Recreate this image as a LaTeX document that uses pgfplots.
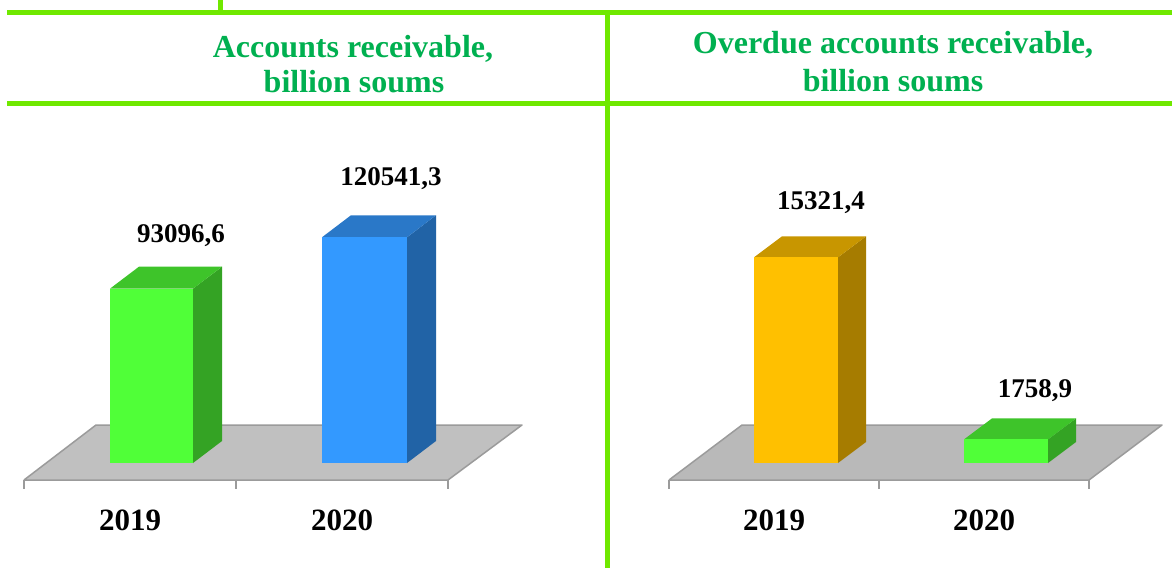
\documentclass[border=0pt]{standalone}
\usepackage{pgfplots}
\pgfplotsset{compat=1.18}
\usepackage{fontspec}
\setmainfont{Liberation Serif}
\definecolor{frame}{RGB}{112,232,0}
\definecolor{ttl}{RGB}{0,176,80}
\definecolor{gfront}{RGB}{80,255,56}
\definecolor{gside}{RGB}{52,163,36}
\definecolor{gtop}{RGB}{62,196,42}
\definecolor{bfront}{RGB}{51,153,255}
\definecolor{bside}{RGB}{33,99,166}
\definecolor{btop}{RGB}{42,120,200}
\definecolor{yfront}{RGB}{255,192,0}
\definecolor{yside}{RGB}{166,124,0}
\definecolor{ytop}{RGB}{200,150,0}
\definecolor{floorL}{RGB}{192,192,192}
\definecolor{floorR}{RGB}{185,185,185}
\definecolor{floorE}{RGB}{155,155,155}
\begin{document}
\begin{tikzpicture}[x=1pt,y=1pt]
\fill[white] (0,0) rectangle (1172,568);
% frame lines
\draw[frame, line width=5pt] (7,555) -- (1172,555);
\draw[frame, line width=5pt] (7,464) -- (1172,464);
\draw[frame, line width=5pt] (220,568) -- (220,555);
\draw[frame, line width=5pt] (607,557) -- (607,0);
% titles
\begin{scope}[every node/.style={text=ttl, font=\bfseries\fontsize{32}{35}\selectfont, inner sep=0pt, anchor=base}]
\node at (353,510) {Accounts receivable,};
\node at (354,475) {billion soums};
\node at (893,514) {Overdue accounts receivable,};
\node at (893,476) {billion soums};
\end{scope}
% left panel
\begin{axis}[at={(0pt,105pt)}, anchor=south west, scale only axis, width=600pt, height=300pt,
  xmin=0, xmax=600, ymin=0, ymax=160200, hide axis, clip=false, enlargelimits=false]
\addplot[fill=floorL, draw=floorE, line width=1.5pt, line join=round] coordinates {(24,-9078) (448,-9078) (522,20292) (96,20292) (24,-9078)};
\addplot[fill=gside, draw=none] coordinates {(193,0) (222,11748) (222,104844.6) (193,93096.6)};
\addplot[fill=gtop, draw=none] coordinates {(110,93096.6) (139,104844.6) (222,104844.6) (193,93096.6)};
\addplot[ybar, bar width=83, bar shift=0pt, fill=gfront, draw=none] coordinates {(151.5,93096.6)};
\addplot[fill=bside, draw=none] coordinates {(407,0) (436,11748) (436,132289.3) (407,120541.3)};
\addplot[fill=btop, draw=none] coordinates {(322,120541.3) (351,132289.3) (436,132289.3) (407,120541.3)};
\addplot[ybar, bar width=85, bar shift=0pt, fill=bfront, draw=none] coordinates {(364.5,120541.3)};
\end{axis}
% right panel
\begin{axis}[at={(600pt,105pt)}, anchor=south west, scale only axis, width=572pt, height=300pt,
  xmin=600, xmax=1172, ymin=0, ymax=22350, hide axis, clip=false, enlargelimits=false]
\addplot[fill=floorR, draw=floorE, line width=1.5pt, line join=round] coordinates {(669,-1266.5) (1089,-1266.5) (1162,2831) (742,2831) (669,-1266.5)};
\addplot[fill=yside, draw=none] coordinates {(838,0) (866,1564.5) (866,16885.9) (838,15321.4)};
\addplot[fill=ytop, draw=none] coordinates {(754,15321.4) (782,16885.9) (866,16885.9) (838,15321.4)};
\addplot[ybar, bar width=84, bar shift=0pt, fill=yfront, draw=none] coordinates {(796,15321.4)};
\addplot[fill=gside, draw=none] coordinates {(1048,0) (1076,1564.5) (1076,3323.4) (1048,1758.9)};
\addplot[fill=gtop, draw=none] coordinates {(964,1758.9) (992,3323.4) (1076,3323.4) (1048,1758.9)};
\addplot[ybar, bar width=84, bar shift=0pt, fill=gfront, draw=none] coordinates {(1006,1758.9)};
\end{axis}
% ticks
\foreach \x in {24,236,448,669,879,1089} \draw[floorE, line width=1.5pt] (\x,88) -- (\x,79);
% value labels
\begin{scope}[every node/.style={font=\bfseries\fontsize{27}{30}\selectfont, inner sep=0pt, anchor=base}]
\node at (181,325) {93096,6};
\node at (391,382) {120541,3};
\node at (821,358) {15321,4};
\node at (1035,171) {1758,9};
\end{scope}
% years
\begin{scope}[every node/.style={font=\bfseries\fontsize{31}{34}\selectfont, inner sep=0pt, anchor=base}]
\node at (130,38) {2019};
\node at (342,38) {2020};
\node at (774,38) {2019};
\node at (984,38) {2020};
\end{scope}
\pgfresetboundingbox
\useasboundingbox (0,0) rectangle (1172,568);
\end{tikzpicture}
\end{document}
